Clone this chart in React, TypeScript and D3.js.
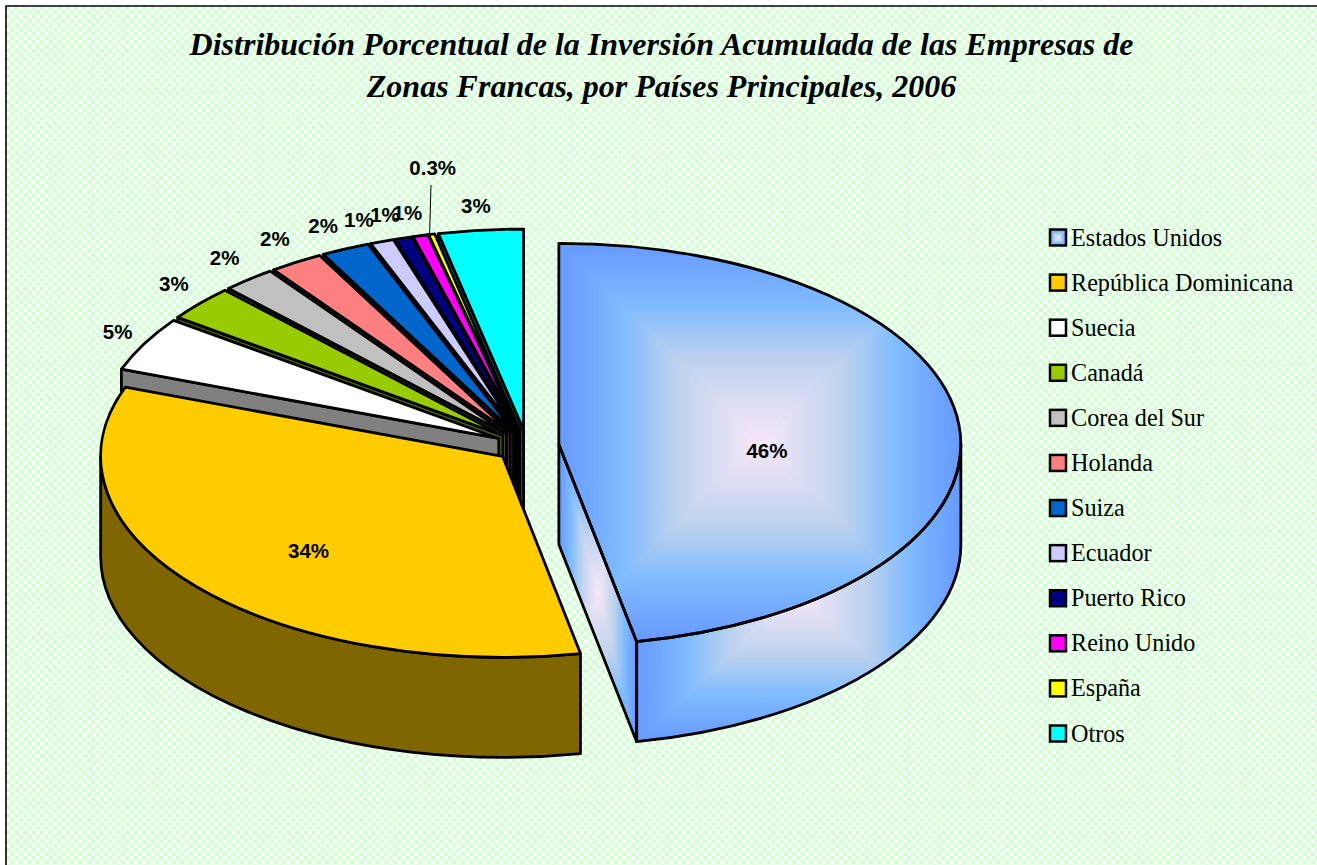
import React from "react";
import * as d3 from "d3";

const categories = ["Estados Unidos","República Dominicana","Suecia","Canadá","Corea del Sur","Holanda","Suiza","Ecuador","Puerto Rico","Reino Unido","España","Otros"];
const shares = [46.9,33.7,4.4,2.85,2.15,2.15,1.95,0.95,0.7,0.6,0.25,3.4];
const labels = ["46%","34%","5%","3%","2%","2%","2%","1%","1%","1%","0.3%","3%"];
const colors = ["#6699FF","#FFCC00","#FFFFFF","#99CC00","#C0C0C0","#FF8080","#0066CC","#CCCCFF","#000080","#FF00FF","#FFFF00","#00FFFF"];
const titleLines = ["Distribución Porcentual de la Inversión Acumulada de las Empresas de","Zonas Francas, por Países Principales, 2006"];

// layout
const W = 1317, H = 865;
const CX = 527, CY = 446, RX = 402, RY = 201, DEPTH = 100, EXPLODE = 32;
const labelRadius = [0.52,0.64,1.09,1.09,1.09,1.09,1.09,1.09,1.09,1.09,1.09,1.09];
const labelNudge = [[0,17],[1.5,11],[5.5,-4],[1,-7.5],[-1,-8],[-2,-8],[-7,-7],[-11,-5],[-8,-6],[-4,-5],[9,-49],[-1,-6]];
const legendScale = d3.scaleLinear().domain([0, 11]).range([238, 734]);
const GRAD = ["#F8E8F8","#BDD2EE","#80BCFF","#6699FF"];
const GRAD_STOPS = [0,0.42,0.68,1];

const slices = d3.pie<number>().sort(null).value((d) => d)(shares);

type Slice = { i:number; a0:number; a1:number; cx:number; cy:number };
const geom: Slice[] = slices.map((s, i) => {
  const m = (s.startAngle + s.endAngle) / 2;
  return { i, a0:s.startAngle, a1:s.endAngle, cx:CX + EXPLODE*Math.sin(m), cy:CY - EXPLODE*0.5*Math.cos(m) };
});
const rim = (g:Slice, a:number, dz=0):[number,number] => [g.cx + RX*Math.sin(a), g.cy - RY*Math.cos(a) + dz];
const p = (q:[number,number]) => `${q[0].toFixed(2)} ${q[1].toFixed(2)}`;
const arcTo = (a:number, b:number, g:Slice, dz=0) => {
  const large = Math.abs(b-a) > Math.PI ? 1 : 0;
  const sweep = b > a ? 1 : 0;
  return `A${RX} ${RY} 0 ${large} ${sweep} ${p(rim(g,b,dz))}`;
};
const topFace = (g:Slice) => `M${g.cx} ${g.cy}L${p(rim(g,g.a0))}${arcTo(g.a0,g.a1,g)}Z`;
const radialWall = (g:Slice, a:number) => {
  const r = rim(g,a);
  return `M${g.cx} ${g.cy}L${p(r)}L${r[0]} ${r[1]+DEPTH}L${g.cx} ${g.cy+DEPTH}Z`;
};
const rimWall = (g:Slice) => {
  const a = Math.max(g.a0, Math.PI/2), b = Math.min(g.a1, 1.5*Math.PI);
  if (b <= a) return null;
  return `M${p(rim(g,a))}${arcTo(a,b,g)}L${p(rim(g,b,DEPTH))}${arcTo(b,a,g,DEPTH)}Z`;
};
const half = (c:string) => { const r = d3.rgb(c); return d3.rgb(r.r/2, r.g/2, r.b/2).formatHex(); };

// rectangular ("from centre") gradient made of four triangles
function RectGrad({id, x0, y0, x1, y1, clip}:{id:string;x0:number;y0:number;x1:number;y1:number;clip:string}) {
  const mx=(x0+x1)/2, my=(y0+y1)/2;
  const tris = [
    {k:"t", pts:[[x0,y0],[x1,y0],[mx,my]], from:[mx,y0]},
    {k:"r", pts:[[x1,y0],[x1,y1],[mx,my]], from:[x1,my]},
    {k:"b", pts:[[x1,y1],[x0,y1],[mx,my]], from:[mx,y1]},
    {k:"l", pts:[[x0,y1],[x0,y0],[mx,my]], from:[x0,my]},
  ];
  return (
    <g>
      <defs>
        <clipPath id={`${id}-clip`}><path d={clip}/></clipPath>
        {tris.map(t => (
          <linearGradient key={t.k} id={`${id}-${t.k}`} gradientUnits="userSpaceOnUse" x1={mx} y1={my} x2={t.from[0]} y2={t.from[1]}>
            {GRAD.map((c,j)=><stop key={j} offset={GRAD_STOPS[j]} stopColor={c}/>)}
          </linearGradient>
        ))}
      </defs>
      <g clipPath={`url(#${id}-clip)`}>
        <rect x={x0} y={y0} width={x1-x0} height={y1-y0} fill="#80BCFF"/>
        {tris.map(t => <polygon key={t.k} points={t.pts.map(q=>q.join(",")).join(" ")} fill={`url(#${id}-${t.k})`} stroke={`url(#${id}-${t.k})`} strokeWidth={0.6}/>)}
      </g>
    </g>
  );
}

const SW = 2.8;
export default function App() {
  const eu = geom[0];
  const euEnd = rim(eu, eu.a1);
  const euTop = topFace(eu);
  const euEdge = radialWall(eu, eu.a1);
  const euRim = rimWall(eu)!;
  const order = d3.range(11, 1, -1);
  const dr = geom[1];
  const sp = geom[10];
  const spRim = rim(sp, sp.a0);
  return (
    <svg width={W} height={H} style={{position:"absolute",left:0,top:0,display:"block"}} xmlns="http://www.w3.org/2000/svg">
      <defs>
        <pattern id="bg" patternUnits="userSpaceOnUse" width={8.5} height={8.5} x={6} y={6}>
          <rect width={8.5} height={8.5} fill="#FBFFFB"/>
          <rect x={0} y={0} width={4.25} height={4.25} fill="#D0FFD0"/>
          <rect x={4.25} y={4.25} width={4.25} height={4.25} fill="#D0FFD0"/>
        </pattern>
      </defs>
      <rect width={W} height={H} fill="#fff"/>
      <rect x={6} y={6} width={W-6} height={H-6} fill="url(#bg)"/>
      <path d={`M6 ${H}V6H${W}`} fill="none" stroke="#000" strokeWidth={1.6}/>

      {titleLines.map((t,i)=>(
        <text key={i} x={661.5} y={54.5+i*42} textAnchor="middle" fontFamily="'Liberation Serif'" fontWeight="bold" fontStyle="italic" fontSize={32} fill="#000">{t}</text>
      ))}

      {order.map(i=>{
        const g=geom[i];
        return (
          <g key={i} stroke="#000" strokeWidth={SW} strokeLinejoin="round">
            <path d={radialWall(g,g.a0)} fill={half(colors[i])}/>
            <path d={topFace(g)} fill={colors[i]}/>
          </g>
        );
      })}

      <g stroke="#000" strokeWidth={SW} strokeLinejoin="round">
        <path d={rimWall(dr)!} fill={half(colors[1])}/>
        <path d={topFace(dr)} fill={colors[1]}/>
      </g>

      <RectGrad id="euEdge" x0={eu.cx} y0={eu.cy} x1={euEnd[0]} y1={euEnd[1]+DEPTH} clip={euEdge}/>
      <RectGrad id="euRim" x0={euEnd[0]} y0={eu.cy} x1={eu.cx+RX} y1={euEnd[1]+DEPTH} clip={euRim}/>
      <RectGrad id="euTop" x0={eu.cx} y0={eu.cy-RY} x1={eu.cx+RX} y1={euEnd[1]} clip={euTop}/>
      <g fill="none" stroke="#000" strokeWidth={SW} strokeLinejoin="round">
        <path d={euEdge}/>
        <path d={euRim}/>
        <path d={euTop}/>
      </g>

      <line x1={431} y1={185} x2={spRim[0]+1} y2={spRim[1]} stroke="#000" strokeWidth={1}/>

      {labels.map((t,i)=>{
        const g=geom[i], m=(g.a0+g.a1)/2, k=labelRadius[i];
        return <text key={i} x={g.cx+k*RX*Math.sin(m)+labelNudge[i][0]} y={g.cy-k*RY*Math.cos(m)+labelNudge[i][1]} dy="0.35em" textAnchor="middle" fontFamily="'Liberation Sans'" fontWeight="bold" fontSize={20.5} fill="#000">{t}</text>;
      })}

      {categories.map((c,i)=>{
        const y=legendScale(i);
        const sx=1050, sy=y-8.5, s=16;
        return (
          <g key={c}>
            {i===0
              ? <RectGrad id="lgEU" x0={sx} y0={sy} x1={sx+s} y1={sy+s} clip={`M${sx} ${sy}h${s}v${s}h${-s}Z`}/>
              : <rect x={sx} y={sy} width={s} height={s} fill={colors[i]}/>}
            <rect x={sx} y={sy} width={s} height={s} fill="none" stroke="#000" strokeWidth={2.5}/>
            <text x={1071} y={y+7.5} fontFamily="'Liberation Serif'" fontSize={24.2} fill="#000">{c}</text>
          </g>
        );
      })}
    </svg>
  );
}
